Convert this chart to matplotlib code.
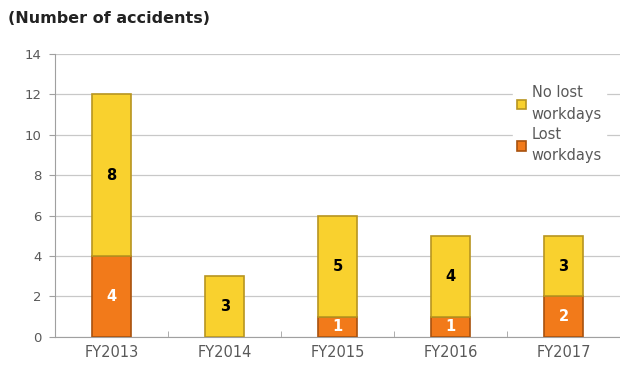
import matplotlib
matplotlib.use('Agg')
import matplotlib.pyplot as plt
import numpy as np

years = ["FY2013", "FY2014", "FY2015", "FY2016", "FY2017"]
lost = [4, 0, 1, 1, 2]
no_lost = [8, 3, 5, 4, 3]

YELLOW = "#F9D12E"
YELLOW_EDGE = "#B89520"
ORANGE = "#F27A1A"
ORANGE_EDGE = "#A8520E"
GRAY = "#595959"

fig = plt.figure(figsize=(6.2, 3.69), dpi=100)
ax = fig.add_axes([0.089, 0.087, 0.911, 0.767])

x = np.arange(len(years))
w = 0.35
ax.bar(x, lost, w, color=ORANGE, edgecolor=ORANGE_EDGE, lw=1.2,
       label="Lost\nworkdays", zorder=3)
ax.bar(x, no_lost, w, bottom=lost, color=YELLOW, edgecolor=YELLOW_EDGE, lw=1.2,
       label="No lost\nworkdays", zorder=3)

for xi, l, n in zip(x, lost, no_lost):
    if l > 0:
        ax.text(xi, l / 2, str(l), ha="center", va="center", color="white",
                fontsize=10.5, fontweight="bold", zorder=4)
    ax.text(xi, l + n / 2, str(n), ha="center", va="center", color="black",
            fontsize=10.5, fontweight="bold", zorder=4)

ax.set_xlim(-0.5, len(years) - 0.5)
ax.set_ylim(0, 14)
ax.set_yticks(range(0, 15, 2))
ax.set_xticks(x)
ax.set_xticklabels(years)
ax.set_xticks(x[:-1] + 0.5, minor=True)
ax.tick_params(axis="x", which="major", length=0, colors=GRAY, labelsize=10.5, pad=6)
ax.tick_params(axis="x", which="minor", length=4, direction="in", color="#A0A0A0")
ax.tick_params(axis="y", length=4, color="#A0A0A0", colors=GRAY, labelsize=9.5, pad=6)
ax.grid(axis="y", color="#C8C8C8", lw=0.9, zorder=0)
for s in ["top", "right"]:
    ax.spines[s].set_visible(False)
for s in ["left", "bottom"]:
    ax.spines[s].set_color("#A0A0A0")

handles, labels = ax.get_legend_handles_labels()
leg = ax.legend(handles[::-1], labels[::-1], loc="upper left",
                bbox_to_anchor=(0.81, 0.905), frameon=True, fontsize=10.5,
                handlelength=0.6, handleheight=0.6, handletextpad=0.4,
                labelspacing=0.35, borderpad=0.3, borderaxespad=0)
leg.get_frame().set_edgecolor("white")
leg.get_frame().set_alpha(1)
for t in leg.get_texts():
    t.set_color(GRAY)
    t.set_linespacing(1.55)

fig.text(0.013, 0.95, "(Number of accidents)", fontsize=11.5, fontweight="bold",
         color="#222222", va="center")

fig.savefig("out.png", dpi=100)
